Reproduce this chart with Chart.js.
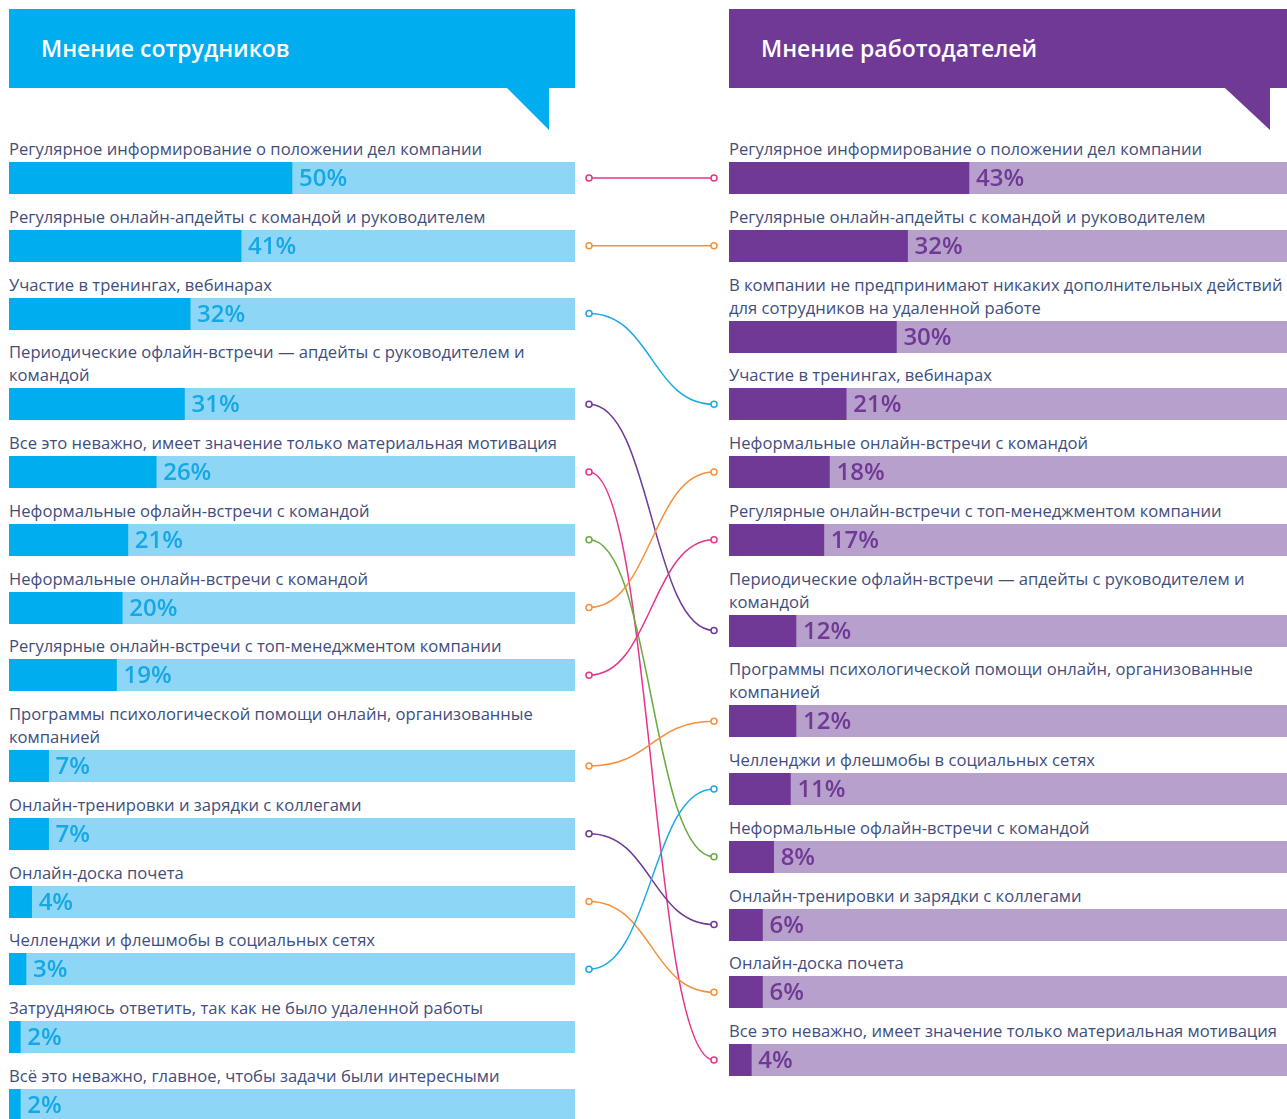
<!DOCTYPE html>
<html lang="ru">
<head>
<meta charset="utf-8">
<title>Мнение сотрудников и работодателей</title>
<script src="https://cdn.jsdelivr.net/npm/chart.js@4.4.1/dist/chart.umd.min.js"></script>
<style>
  html, body { margin: 0; padding: 0; background: #fff; }
  body { width: 1287px; height: 1119px; overflow: hidden; position: relative; font-family: "Open Sans", sans-serif; }
  .panel { position: absolute; top: 9px; }
  #left { left: 9px; width: 566px; }
  #right { left: 729px; width: 558px; }
  .head { height: 79px; color: #fff; font-size: 23px; font-weight: 600; line-height: 79px; padding-left: 32px; position: relative; }
  #left .head { background: #00adef; }
  #right .head { background: #6f3995; }
  .tail { position: absolute; top: 79px; width: 0; height: 0; border-style: solid; }
  #left .tail { left: 498px; border-width: 0 42px 42px 0; border-color: transparent #00adef transparent transparent; }
  #right .tail { left: 496px; border-width: 0 45px 42px 0; border-color: transparent #6f3995 transparent transparent; }
  .rows { margin-top: 50px; }
  .row { margin-bottom: 11.75px; }
  .lbl { white-space: pre; font-size: 16.6px; line-height: 23px; color: #414e7d; margin-bottom: 1px; position: relative; top: -1px; }
  .row canvas { display: block; }
  #links { position: absolute; left: 0; top: 0; pointer-events: none; }
</style>
</head>
<body>
<div class="panel" id="left">
  <div class="head">Мнение сотрудников<div class="tail"></div></div>
  <div class="rows" id="leftRows"></div>
</div>
<div class="panel" id="right">
  <div class="head">Мнение работодателей<div class="tail"></div></div>
  <div class="rows" id="rightRows"></div>
</div>
<canvas id="links" width="1287" height="1119"></canvas>
<script>
// данные: мнение сотрудников
var employeeLabels = [
  'Регулярное информирование о положении дел компании',
  'Регулярные онлайн-апдейты с командой и руководителем',
  'Участие в тренингах, вебинарах',
  'Периодические офлайн-встречи — апдейты с руководителем и\nкомандой',
  'Все это неважно, имеет значение только материальная мотивация',
  'Неформальные офлайн-встречи с командой',
  'Неформальные онлайн-встречи с командой',
  'Регулярные онлайн-встречи с топ-менеджментом компании',
  'Программы психологической помощи онлайн, организованные\nкомпанией',
  'Онлайн-тренировки и зарядки с коллегами',
  'Онлайн-доска почета',
  'Челленджи и флешмобы в социальных сетях',
  'Затрудняюсь ответить, так как не было удаленной работы',
  'Всё это неважно, главное, чтобы задачи были интересными'
];
var employeeValues = [50, 41, 32, 31, 26, 21, 20, 19, 7, 7, 4, 3, 2, 2];

// данные: мнение работодателей
var employerLabels = [
  'Регулярное информирование о положении дел компании',
  'Регулярные онлайн-апдейты с командой и руководителем',
  'В компании не предпринимают никаких дополнительных действий\nдля сотрудников на удаленной работе',
  'Участие в тренингах, вебинарах',
  'Неформальные онлайн-встречи с командой',
  'Регулярные онлайн-встречи с топ-менеджментом компании',
  'Периодические офлайн-встречи — апдейты с руководителем и\nкомандой',
  'Программы психологической помощи онлайн, организованные\nкомпанией',
  'Челленджи и флешмобы в социальных сетях',
  'Неформальные офлайн-встречи с командой',
  'Онлайн-тренировки и зарядки с коллегами',
  'Онлайн-доска почета',
  'Все это неважно, имеет значение только материальная мотивация'
];
var employerValues = [43, 32, 30, 21, 18, 17, 12, 12, 11, 8, 6, 6, 4];

// цвета соединительных линий по строкам сотрудников
var linkColors = ['#e8338b', '#f5913e', '#1ca9e6', '#6f3995', '#e8338b', '#6aab3f',
                  '#f5913e', '#e8338b', '#f5913e', '#6f3995', '#f5913e', '#1ca9e6', null, null];

var percentLabel = {
  id: 'percentLabel',
  afterDatasetsDraw: function(chart, args, opts) {
    var el = chart.getDatasetMeta(0).data[0];
    var ctx = chart.ctx;
    ctx.save();
    ctx.font = '600 24px "Open Sans", sans-serif';
    ctx.fillStyle = opts.color;
    ctx.textBaseline = 'middle';
    ctx.fillText(chart.data.datasets[0].data[0] + '%', el.x + 7, el.y + 1);
    ctx.restore();
  }
};

function makeRows(containerId, labels, values, width, dark, light, textColor) {
  var box = document.getElementById(containerId);
  var canvases = [];
  labels.forEach(function(label, i) {
    var row = document.createElement('div');
    row.className = 'row';
    var lbl = document.createElement('div');
    lbl.className = 'lbl';
    lbl.textContent = label;
    var cv = document.createElement('canvas');
    cv.width = width;
    cv.height = 32;
    cv.style.width = width + 'px';
    cv.style.height = '32px';
    row.appendChild(lbl);
    row.appendChild(cv);
    box.appendChild(row);
    new Chart(cv.getContext('2d'), {
      type: 'bar',
      data: {
        labels: [''],
        datasets: [
          { data: [values[i]], backgroundColor: dark, borderWidth: 0, barPercentage: 1, categoryPercentage: 1 },
          { data: [100 - values[i]], backgroundColor: light, borderWidth: 0, barPercentage: 1, categoryPercentage: 1 }
        ]
      },
      options: {
        indexAxis: 'y',
        responsive: false,
        animation: false,
        devicePixelRatio: 1,
        layout: { padding: 0 },
        scales: {
          x: { stacked: true, min: 0, max: 100, display: false },
          y: { stacked: true, display: false }
        },
        plugins: {
          legend: { display: false },
          tooltip: { enabled: false },
          percentLabel: { color: textColor }
        }
      },
      plugins: [percentLabel]
    });
    canvases.push(cv);
  });
  return canvases;
}

var leftBars = makeRows('leftRows', employeeLabels, employeeValues, 566, '#00adef', '#8ed6f6', '#15a8e5');
var rightBars = makeRows('rightRows', employerLabels, employerValues, 558, '#6f3995', '#b7a0cc', '#6f3995');

function drawLinks() {
  var ctx = document.getElementById('links').getContext('2d');
  var x1 = 589, x2 = 714;
  employeeLabels.forEach(function(label, i) {
    var j = employerLabels.indexOf(label);
    if (j < 0 || !linkColors[i]) return;
    var r1 = leftBars[i].getBoundingClientRect();
    var r2 = rightBars[j].getBoundingClientRect();
    var y1 = r1.top + r1.height / 2, y2 = r2.top + r2.height / 2;
    var d = (x2 - x1) / 2;
    ctx.strokeStyle = linkColors[i];
    ctx.lineWidth = 1.5;
    ctx.beginPath();
    ctx.moveTo(x1, y1);
    ctx.bezierCurveTo(x1 + d, y1, x2 - d, y2, x2, y2);
    ctx.stroke();
    [[x1, y1], [x2, y2]].forEach(function(p) {
      ctx.beginPath();
      ctx.arc(p[0], p[1], 3, 0, Math.PI * 2);
      ctx.fillStyle = '#fff';
      ctx.fill();
      ctx.stroke();
    });
  });
}
drawLinks();
</script>
</body>
</html>
